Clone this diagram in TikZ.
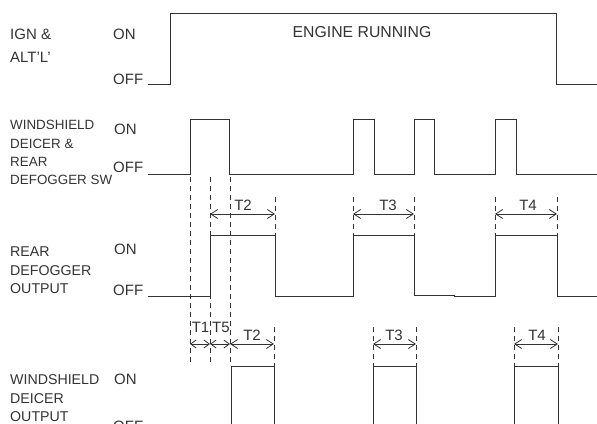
\documentclass[tikz,border=0pt]{standalone}
\usepackage{fontspec}
\setmainfont{Liberation Sans}
\usetikzlibrary{arrows.meta}
\definecolor{ink}{HTML}{333333}
\begin{document}
\begin{tikzpicture}[x=1pt,y=-1pt,
  wave/.style={draw=ink,line width=1pt},
  guide/.style={draw=ink,line width=0.8pt,dash pattern=on 5pt off 4pt},
  dim/.style={draw=ink,line width=0.8pt,{Straight Barb[length=7pt,width=9pt]}-{Straight Barb[length=7pt,width=9pt]}},
  sdim/.style={draw=ink,line width=0.8pt,{Straight Barb[length=5.5pt,width=8pt]}-{Straight Barb[length=5.5pt,width=8pt]}},
  lbl/.style={anchor=base west,inner sep=0pt,text=ink,font=\fontsize{14.2}{15}\selectfont},
  st/.style={anchor=base west,inner sep=0pt,text=ink,font=\fontsize{15}{16}\selectfont},
  tlbl/.style={anchor=base,inner sep=0pt,text=ink,font=\fontsize{15}{16}\selectfont}]
\useasboundingbox (0,0) rectangle (597,423);

% ---- row labels
\node[st] (ign1) at (10,39.5) {IGN \&};
\node[st] (ign2) at (10,62) {ALT'L'};
\node[st] (ignon) at (113,39.5) {ON};
\node[st] (ignoff) at (113,84.5) {OFF};
\node[anchor=base,inner sep=0pt,text=ink,font=\fontsize{15.8}{16}\selectfont] (eng) at (362,37.5) {ENGINE RUNNING};

\node[lbl,font=\fontsize{13.4}{14}\selectfont] (sw1) at (10,129) {WINDSHIELD};
\node[lbl,font=\fontsize{13.4}{14}\selectfont] (sw2) at (10,148) {DEICER \&};
\node[lbl,font=\fontsize{13.4}{14}\selectfont] (sw3) at (10,166) {REAR};
\node[lbl,font=\fontsize{13.4}{14}\selectfont] (sw4) at (10,184) {DEFOGGER SW};
\node[st] (swon) at (114,134.5) {ON};
\node[st] (swoff) at (113,172.5) {OFF};

\node[lbl] (rd1) at (10,256) {REAR};
\node[lbl] (rd2) at (10,275) {DEFOGGER};
\node[lbl] (rd3) at (10,293) {OUTPUT};
\node[st] (rdon) at (114,254.5) {ON};
\node[st] (rdoff) at (113,295.5) {OFF};

\node[lbl] (wd1) at (10,384) {WINDSHIELD};
\node[lbl] (wd2) at (10,403) {DEICER};
\node[lbl] (wd3) at (10,421) {OUTPUT};
\node[st] (wdon) at (114,384.5) {ON};
\node[st] (wdoff) at (113,431) {OFF};

% ---- waveforms
\draw[wave] (148,84) -- (170,84) -- (170,13) -- (556,13) -- (556,84) -- (597,84);
\draw[wave] (148,174) -- (190,174) -- (190,119) -- (229,119) -- (229,174)
  -- (353,174) -- (353,119) -- (374,119) -- (374,174)
  -- (414,174) -- (414,119) -- (434,119) -- (434,174)
  -- (495,174) -- (495,119) -- (516,119) -- (516,174) -- (597,174);
\draw[wave] (148,296) -- (210,296) -- (210,235) -- (275,235) -- (275,296)
  -- (353,296) -- (353,235) -- (414,235) -- (414,295) -- (454,295)
  -- (454,296) -- (495,296) -- (495,235) -- (557,235) -- (557,296) -- (597,296);
\draw[wave] (231,430) -- (231,366) -- (274,366) -- (274,430);
\draw[wave] (373,430) -- (373,366) -- (416,366) -- (416,430);
\draw[wave] (514,430) -- (514,366) -- (558,366) -- (558,430);

% ---- dashed guides
\foreach \x in {190,210,230} \draw[guide] (\x,177) -- (\x,364);
\foreach \x in {275,353,414,495,557} \draw[guide] (\x,197) -- (\x,235);
\foreach \x in {274,373,416,514,558} \draw[guide] (\x,327) -- (\x,366);

% ---- dimension arrows
\coordinate (u2a) at (210,214); \coordinate (u2b) at (275,214);
\coordinate (u3a) at (353,214); \coordinate (u3b) at (414,214);
\coordinate (u4a) at (495,214); \coordinate (u4b) at (557,214);
\coordinate (l1a) at (190,344); \coordinate (l1b) at (210,344);
\coordinate (l5b) at (230,344); \coordinate (l2b) at (274,344);
\coordinate (l3a) at (373,344); \coordinate (l3b) at (416,344);
\coordinate (l4a) at (514,344); \coordinate (l4b) at (558,344);
\draw[dim] (u2a) -- (u2b);
\draw[dim] (u3a) -- (u3b);
\draw[dim] (u4a) -- (u4b);
\draw[sdim] (l1a) -- (l1b);
\draw[sdim] (l1b) -- (l5b);
\draw[dim] (l5b) -- (l2b);
\draw[dim] (l3a) -- (l3b);
\draw[dim] (l4a) -- (l4b);

\node[tlbl] (tu2) at (243,210.5) {T2};
\node[tlbl] (tu3) at (388,210.5) {T3};
\node[tlbl] (tu4) at (528,210.5) {T4};
\node[tlbl] (tl1) at (200.5,332) {T1};
\node[tlbl] (tl5) at (221,332) {T5};
\node[tlbl] (tl2) at (252,340.5) {T2};
\node[tlbl] (tl3) at (394,340.5) {T3};
\node[tlbl] (tl4) at (537,340.5) {T4};
\end{tikzpicture}
\end{document}
